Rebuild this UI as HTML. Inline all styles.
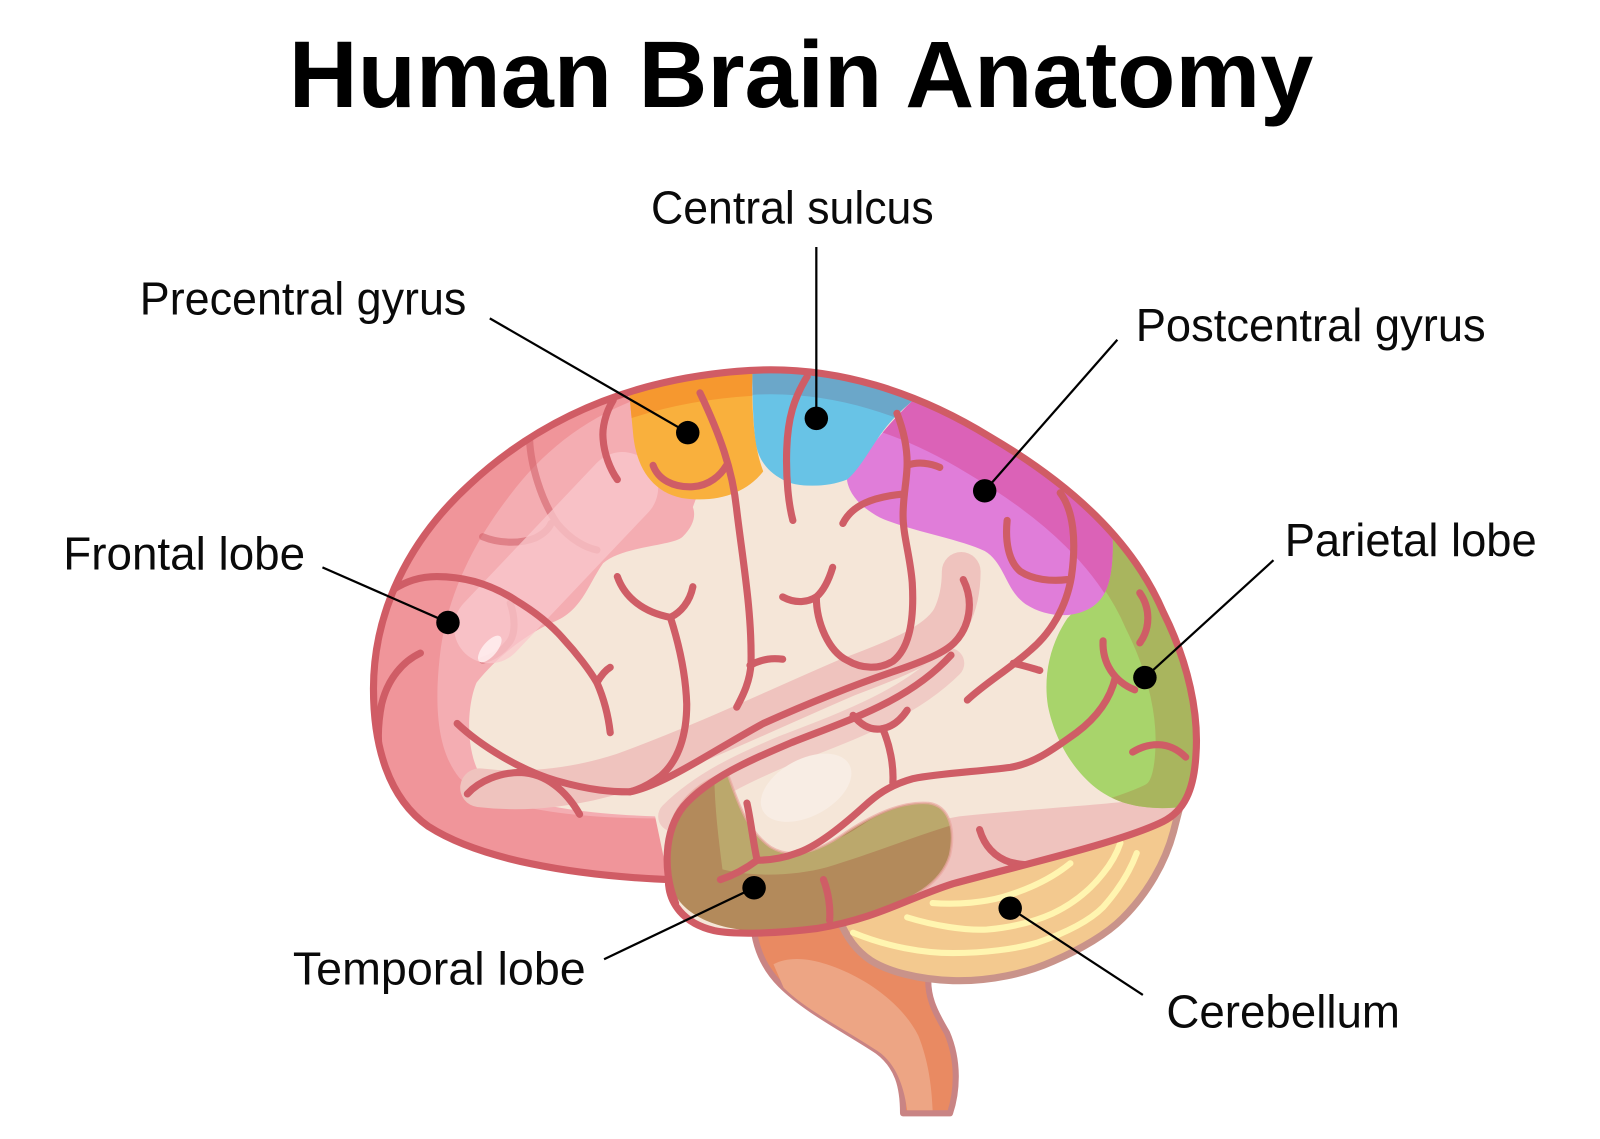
<!DOCTYPE html>
<html>
<head>
<meta charset="utf-8">
<style>
html,body{margin:0;padding:0;background:#fff;}
svg{display:block;}
</style>
</head>
<body>
<svg xmlns="http://www.w3.org/2000/svg" width="1600" height="1139" viewBox="0 0 1568 1116.2" preserveAspectRatio="none">
<defs>
<clipPath id="cb"><path d="M 655 862 C 560 858 470 842 420 810 C 380 782 366 730 366 675 C 366 600 400 530 460 475 C 530 410 620 370 735 363 C 820 358 900 385 970 428 C 1050 475 1110 530 1140 600 C 1165 650 1175 700 1172 740 C 1170 775 1160 795 1140 805 C 1100 825 1000 848 934 866 C 890 880 860 900 800 910 C 760 915 720 916 700 912 C 670 905 655 885 655 862 Z"/></clipPath>
<clipPath id="cO"><path d="M 612 330 L 738 330 L 737 380 C 738 420 740 440 748 462 C 730 485 700 493 668 488 C 640 482 625 460 621 430 C 619 410 617 390 612 330 Z"/></clipPath>
<clipPath id="cB"><path d="M 737 330 L 905 330 L 895 392 C 880 405 870 415 860 430 C 848 448 840 462 830 470 C 810 478 780 478 767 470 C 752 462 742 450 740 430 C 738 410 737 390 737 330 Z"/></clipPath>
<clipPath id="cM"><path d="M 895 392 L 905 330 L 1120 470 L 1090 518 C 1092 555 1088 580 1075 591 C 1060 605 1030 608 1005 592 C 985 578 985 552 965 540 C 940 528 890 520 862 507 C 845 498 832 485 830 470 C 845 450 865 420 895 392 Z"/></clipPath>
<clipPath id="cG"><path d="M 1082 505 L 1200 505 L 1200 800 L 1162 790 C 1140 794 1110 792 1090 782 C 1060 768 1035 732 1027 692 C 1022 660 1030 630 1046 606 C 1062 590 1072 560 1082 505 Z"/></clipPath>
<clipPath id="cL"><path d="M 657 812 C 662 785 690 762 713 758 C 722 782 730 812 755 830 C 778 844 805 833 830 815 C 858 797 885 785 910 787 C 932 790 936 815 931 838 C 924 862 900 880 862 892 C 820 905 775 913 740 912 C 702 911 670 897 659 872 C 652 852 652 832 657 812 Z"/></clipPath>
</defs>

<!-- Brainstem -->
<path d="M 738 905 C 740 930 750 950 765 965 C 790 990 830 1010 860 1030 C 880 1045 885 1065 885 1091 L 931 1091 C 938 1070 940 1040 928 1012 C 915 990 908 975 910 955 L 850 900 Z" fill="#E98A62" stroke="#C98484" stroke-width="6" stroke-linejoin="round"/>
<path d="M 758 945 C 770 938 790 938 810 945 C 850 958 885 985 900 1015 C 910 1040 913 1065 914 1088 L 889 1088 C 886 1065 878 1042 860 1030 C 830 1010 790 990 768 968 Z" fill="#EDA584"/>

<!-- Cerebellum -->
<path d="M 822 900 C 830 920 840 932 853 941 C 870 952 900 960 934 961 C 970 962 1005 954 1032 942 C 1060 930 1085 915 1100 900 C 1125 875 1142 845 1150 815 C 1155 795 1158 785 1160 775 L 1000 820 Z" fill="#F3C98F" stroke="#C9938A" stroke-width="7" stroke-linejoin="round"/>
<g fill="none" stroke="#FFF5B0" stroke-width="6" stroke-linecap="round">
<path d="M 836 914 C 870 928 905 934 934 934 C 965 934 995 930 1016 924 C 1045 914 1068 902 1081 889 C 1098 870 1108 852 1114 836"/>
<path d="M 889 899 C 915 907 945 912 967 911 C 990 909 1012 904 1032 895 C 1055 884 1070 870 1081 856 C 1090 845 1095 835 1098 826"/>
<path d="M 914 885 C 940 887 965 884 983 879 C 1010 871 1032 860 1049 846"/>
</g>

<!-- Cerebrum -->
<g clip-path="url(#cb)">
  <rect x="300" y="300" width="950" height="700" fill="#F0959A"/>
  <path d="M 622 392 C 570 412 530 445 500 485 C 465 530 440 580 432 635 C 425 690 428 735 450 762 C 480 792 560 802 645 802 L 700 490 Z" fill="#F4ADB2"/>
  <path d="M 700 330 L 1200 330 L 1200 960 L 700 960 C 670 905 655 885 655 862 L 642 800 C 580 798 500 790 472 762 C 455 735 458 690 467 669 C 490 640 520 620 539 611 C 570 600 575 575 591 552 C 610 535 660 535 669 526 C 680 515 682 505 679 497 C 690 470 700 420 700 330 Z" fill="#F5E6D8"/>

  <!-- faded frontal sulci under highlight -->
  <g fill="none" stroke="#CF5D66" stroke-width="7" stroke-linecap="round" opacity="0.55">
    <path d="M 519 431 C 520 455 530 490 546 513 C 560 530 575 537 585 539"/>
    <path d="M 473 526 C 490 533 510 533 525 527 C 533 523 538 518 540 513"/>
    <path d="M 500 591 C 505 605 505 620 500 628 C 493 638 483 644 473 647"/>
  </g>
  <!-- highlight band -->
  <path d="M 480 615 L 610 478" stroke="#FAC8CC" stroke-width="70" stroke-linecap="round" opacity="0.75" fill="none"/>
  <ellipse cx="480" cy="636" rx="16" ry="7" transform="rotate(-50 480 636)" fill="#FFF3F3" opacity="0.8"/>

  <!-- pink bands -->
  <path d="M 760 880 C 820 850 880 810 940 800 C 1000 794 1060 790 1100 786 C 1130 783 1150 780 1175 770 L 1175 830 L 760 930 Z" fill="#EFC3BE"/>
  <path d="M 470 772 C 520 778 570 770 610 757 C 690 728 760 694 830 664 C 880 645 918 630 932 606 C 940 590 942 575 942 560" fill="none" stroke="#EFC3BE" stroke-width="38" stroke-linecap="round"/>
  <path d="M 660 800 C 690 770 730 752 770 735 C 830 712 890 690 930 650" fill="none" stroke="#F0CBC5" stroke-width="30" stroke-linecap="round"/>

  <!-- temporal highlight -->
  <ellipse cx="790" cy="772" rx="48" ry="28" transform="rotate(-28 790 772)" fill="#F8EDE4"/>

  <!-- colored patches -->
  <g clip-path="url(#cG)">
    <rect x="1000" y="480" width="220" height="340" fill="#A8D46B"/>
    <path d="M 655 862 C 560 858 470 842 420 810 C 380 782 366 730 366 675 C 366 600 400 530 460 475 C 530 410 620 370 735 363 C 820 358 900 385 970 428 C 1050 475 1110 530 1140 600 C 1165 650 1175 700 1172 740 C 1170 775 1160 795 1140 805 C 1100 825 1000 848 934 866" fill="none" stroke="#A9B55E" stroke-width="80"/>
  </g>
  <g clip-path="url(#cM)">
    <rect x="800" y="320" width="330" height="300" fill="#E07DD9"/>
    <path d="M 460 475 C 530 410 620 370 735 363 C 820 358 900 385 970 428 C 1050 475 1110 530 1140 600" fill="none" stroke="#DB62B7" stroke-width="84"/>
  </g>
  <g clip-path="url(#cB)">
    <rect x="720" y="320" width="200" height="170" fill="#68C3E6"/>
    <path d="M 460 475 C 530 410 620 370 735 363 C 820 358 900 385 970 428" fill="none" stroke="#6BA7C9" stroke-width="48"/>
  </g>
  <g clip-path="url(#cO)">
    <rect x="600" y="320" width="160" height="180" fill="#F9B03D"/>
    <path d="M 460 475 C 530 410 620 370 735 363 C 820 358 900 385 970 428" fill="none" stroke="#F6982F" stroke-width="50"/>
  </g>
  <g clip-path="url(#cL)">
    <rect x="640" y="740" width="310" height="190" fill="#B38A5B"/>
    <path d="M 700 755 L 725 755 C 730 800 740 820 760 830 C 790 840 820 825 850 805 C 880 788 910 782 935 790 L 935 808 C 900 818 860 835 810 850 C 780 858 740 860 708 852 C 704 820 700 790 700 755 Z" fill="#BBA86C"/>
  </g>
  <path d="M 657 812 C 662 785 690 762 713 758 C 722 782 730 812 755 830 C 778 844 805 833 830 815 C 858 797 885 785 910 787 C 932 790 936 815 931 838 C 924 862 900 880 862 892" fill="none" stroke="#EBA8A3" stroke-width="2.5" opacity="0.7"/>

  <!-- sulci -->
  <g fill="none" stroke="#CF5D66" stroke-width="7" stroke-linecap="round" stroke-linejoin="round">
    <path d="M 686 385 C 705 425 718 460 722 500 C 728 550 737 600 736 650 C 735 670 726 685 722 693"/>
    <path d="M 735 652 C 748 645 758 645 767 646"/>
    <path d="M 640 456 C 645 470 660 478 679 477 C 695 476 706 466 712 456"/>
    <path d="M 791 369 C 778 390 772 410 771 440 C 770 470 773 495 777 510"/>
    <path d="M 767 585 C 780 592 792 590 800 585 C 808 578 813 566 816 556"/>
    <path d="M 800 585 C 800 610 812 638 830 647 C 845 656 862 656 875 648 C 892 635 896 605 894 571 C 892 545 885 525 885 505 C 885 485 889 470 889 454 C 889 435 884 418 879 405"/>
    <path d="M 889 456 C 900 452 912 454 921 458"/>
    <path d="M 826 513 C 835 495 855 487 886 484"/>
    <path d="M 987 510 C 985 530 988 550 1000 560 C 1012 568 1030 570 1046 568"/>
    <path d="M 1039 483 C 1052 500 1055 530 1050 565 C 1045 595 1030 620 1010 637 C 990 655 965 670 948 686"/>
    <path d="M 993 650 C 1003 652 1012 655 1019 657"/>
    <path d="M 1081 628 C 1080 650 1092 668 1112 676"/>
    <path d="M 1093 664 C 1088 685 1075 703 1055 718 C 1035 732 1015 748 990 752 C 960 756 920 758 895 763 C 870 770 858 780 846 791 C 825 810 800 830 781 836 C 765 842 750 843 742 843"/>
    <path d="M 836 701 C 845 712 855 716 865 714 C 875 712 883 705 889 696"/>
    <path d="M 865 714 C 872 730 876 750 875 767"/>
    <path d="M 1117 581 C 1127 595 1128 615 1117 630"/>
    <path d="M 1110 737 C 1125 728 1145 725 1162 742"/>
    <path d="M 448 709 C 470 730 510 755 545 765 C 580 775 600 776 617 776 C 650 770 700 735 748 709 C 790 690 840 670 879 657 C 905 648 925 640 935 630 C 950 615 955 590 944 568"/>
    <path d="M 657 605 C 665 630 672 660 673 690 C 673 720 665 745 648 760 C 635 770 625 774 617 776"/>
    <path d="M 605 565 C 612 585 630 600 657 605 C 667 600 676 590 679 575"/>
    <path d="M 662 885 C 650 855 650 815 670 790 C 695 762 735 745 775 728 C 830 706 890 688 932 642"/>
    <path d="M 732 787 C 736 805 738 825 742 843 C 730 852 718 858 706 862"/>
    <path d="M 807 862 C 812 875 814 890 813 902"/>
    <path d="M 960 813 C 965 830 975 840 990 845 C 1010 850 1040 848 1065 840"/>
    <path d="M 601 392 C 593 405 590 420 591 430 C 592 445 598 460 605 470"/>
    <path d="M 385 578 C 400 568 415 565 428 565 C 460 565 485 575 505 588 C 525 600 540 612 552 626 C 565 640 578 657 585 669 C 592 685 596 700 598 718"/>
    <path d="M 585 669 C 589 662 593 657 598 654"/>
    <path d="M 412 640 C 395 648 380 665 374 690 C 370 710 370 725 372 740"/>
    <path d="M 458 778 C 470 765 490 757 510 757 C 535 758 555 775 568 798"/>
  </g>
</g>
<!-- Cerebrum outline -->
<path d="M 655 862 C 560 858 470 842 420 810 C 380 782 366 730 366 675 C 366 600 400 530 460 475 C 530 410 620 370 735 363 C 820 358 900 385 970 428 C 1050 475 1110 530 1140 600 C 1165 650 1175 700 1172 740 C 1170 775 1160 795 1140 805 C 1100 825 1000 848 934 866 C 890 880 860 900 800 910 C 760 915 720 916 700 912 C 670 905 655 885 655 862 Z" fill="none" stroke="#D05C65" stroke-width="7" stroke-linejoin="round"/>

<!-- Leader lines -->
<g stroke="#000" stroke-width="2.2" fill="none">
  <line x1="800" y1="242" x2="800" y2="410"/>
  <line x1="480" y1="312" x2="674" y2="424"/>
  <line x1="1095" y1="333" x2="965" y2="481"/>
  <line x1="316" y1="556" x2="439" y2="610"/>
  <line x1="1248" y1="549" x2="1122" y2="664"/>
  <line x1="592" y1="940" x2="739" y2="870"/>
  <line x1="1120" y1="975" x2="990" y2="890"/>
</g>
<g fill="#000">
  <circle cx="800" cy="410" r="11.5"/>
  <circle cx="674" cy="424" r="11.5"/>
  <circle cx="965" cy="481" r="11.5"/>
  <circle cx="439" cy="610" r="11.5"/>
  <circle cx="1122" cy="664" r="11.5"/>
  <circle cx="739" cy="870" r="11.5"/>
  <circle cx="990" cy="890" r="11.5"/>
</g>

<!-- Text -->
<text x="283" y="105" font-family="'Liberation Sans', Arial, sans-serif" font-weight="bold" font-size="93" textLength="1004" lengthAdjust="spacingAndGlyphs" fill="#000">Human Brain Anatomy</text>
<g font-family="'Liberation Sans', Arial, sans-serif" font-size="45" fill="#0a0a0a">
  <text x="638" y="219" textLength="277" lengthAdjust="spacingAndGlyphs">Central sulcus</text>
  <text x="137" y="308" textLength="320" lengthAdjust="spacingAndGlyphs">Precentral gyrus</text>
  <text x="1113" y="334" textLength="343" lengthAdjust="spacingAndGlyphs">Postcentral gyrus</text>
  <text x="62" y="558" textLength="237" lengthAdjust="spacingAndGlyphs">Frontal lobe</text>
  <text x="1259" y="545" textLength="247" lengthAdjust="spacingAndGlyphs">Parietal lobe</text>
  <text x="287" y="965" textLength="287" lengthAdjust="spacingAndGlyphs">Temporal lobe</text>
  <text x="1143" y="1007" textLength="229" lengthAdjust="spacingAndGlyphs">Cerebellum</text>
</g>
</svg>
</body>
</html>
